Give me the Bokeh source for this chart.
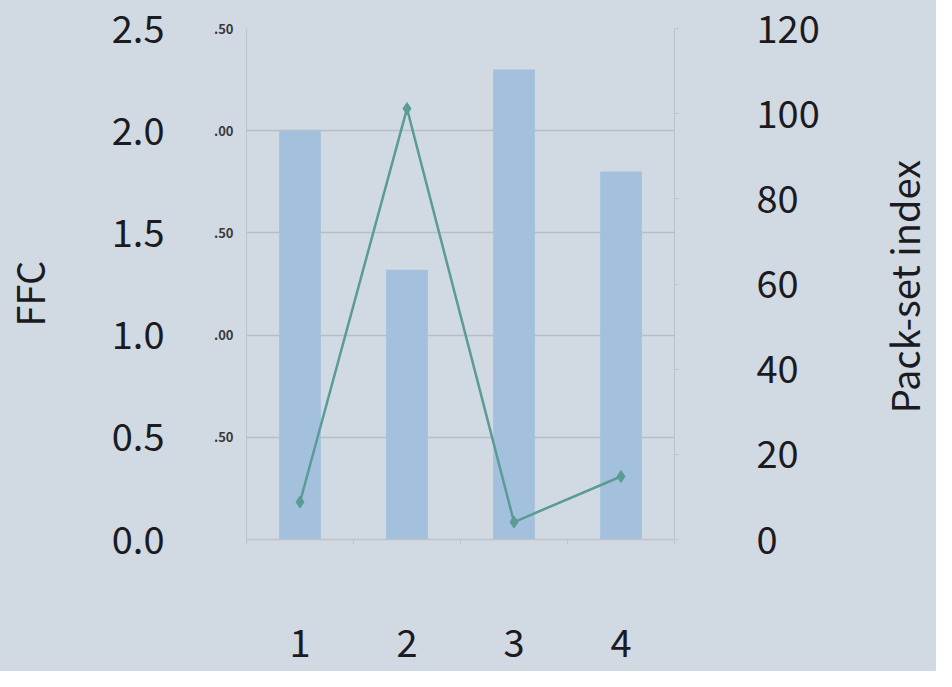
from bokeh.plotting import figure
from bokeh.layouts import row
from bokeh.models import Range1d, LinearAxis, FixedTicker, Label
from bokeh.embed import file_html
from bokeh.resources import INLINE

# Data
groups = [1, 2, 3, 4]
group_labels = ["1", "2", "3", "4"]
ffc = [2.0, 1.32, 2.3, 1.8]
pack_set_index = [8.8, 101.2, 4.1, 14.8]
ffc_ticks = [0.0, 0.5, 1.0, 1.5, 2.0, 2.5]
ffc_tick_labels = ["0.0", "0.5", "1.0", "1.5", "2.0", "2.5"]
inner_tick_labels = ["", ".50", ".00", ".50", ".00", ".50"]
psi_ticks = [0, 20, 40, 60, 80, 100, 120]
left_title = "FFC"
right_title = "Pack-set index"

BG = "#d1d9e3"
BAR = "#a3c1dc"
LINE = "#5b9b96"
GRID = "#b8bec6"
AXIS = "#bcc3cc"
TEXT = "#1b1b1f"
FONT = "Noto Sans CJK JP"
BIG = "38px"
H = 671


def title_strip(text, x, y):
    """Narrow figure that carries a rotated axis title (reads bottom-to-top)."""
    f = figure(width=60, height=H, output_backend="svg", toolbar_location=None,
               x_range=Range1d(0, 1), y_range=Range1d(0, 1),
               x_axis_location=None, y_axis_location=None,
               background_fill_color=None, border_fill_color=BG,
               min_border=0, outline_line_color=None)
    f.grid.visible = False
    f.add_layout(Label(x=x, y=y, text=text, angle=90, angle_units="deg",
                       text_align="center", text_baseline="middle", text_font=FONT,
                       text_font_size=BIG, text_color=TEXT))
    return f


p = figure(width=816, height=H, output_backend="svg", toolbar_location=None,
           x_range=Range1d(0.5, 4.5), y_range=Range1d(0, 2.5),
           background_fill_color=None, border_fill_color=BG,
           min_border_left=186, min_border_right=202, min_border_top=28,
           min_border_bottom=132, outline_line_color=None)

p.extra_y_ranges = {"right": Range1d(0, 120)}

# inner (clipped-looking) left axis
ya = p.yaxis[0]
ya.ticker = FixedTicker(ticks=ffc_ticks, minor_ticks=[])
ya.major_label_overrides = {t: l for t, l in zip(ffc_ticks, inner_tick_labels)}
ya.major_tick_out = 0
ya.major_tick_in = 0
ya.axis_line_color = AXIS
ya.axis_line_width = 1
ya.major_label_standoff = 13
ya.major_label_text_font = FONT
ya.major_label_text_font_size = "13px"
ya.major_label_text_font_style = "bold"
ya.major_label_text_color = "#3a3a3a"

# outer left axis with big labels
yo = LinearAxis(ticker=FixedTicker(ticks=ffc_ticks, minor_ticks=[]),
                major_label_overrides={t: l for t, l in zip(ffc_ticks, ffc_tick_labels)})
yo.axis_line_color = None
yo.major_tick_line_color = None
yo.major_tick_out = 0
yo.major_tick_in = 0
yo.major_label_standoff = 46
yo.major_label_text_font = FONT
yo.major_label_text_font_size = BIG
yo.major_label_text_color = TEXT
p.add_layout(yo, "left")

# right axis
yr = LinearAxis(y_range_name="right", ticker=FixedTicker(ticks=psi_ticks, minor_ticks=[]))
yr.axis_line_color = AXIS
yr.major_tick_line_color = AXIS
yr.major_tick_out = 4
yr.major_tick_in = 0
yr.major_label_standoff = 78
yr.major_label_text_font = FONT
yr.major_label_text_font_size = BIG
yr.major_label_text_color = TEXT
p.add_layout(yr, "right")

# bottom axis
xa = p.xaxis[0]
xa.ticker = FixedTicker(ticks=groups, minor_ticks=[0.5, 1.5, 2.5, 3.5, 4.5])
xa.major_label_overrides = {g: l for g, l in zip(groups, group_labels)}
xa.major_tick_line_color = None
xa.major_tick_out = 0
xa.major_tick_in = 0
xa.minor_tick_line_color = AXIS
xa.minor_tick_out = 5
xa.minor_tick_in = 0
xa.axis_line_color = AXIS
xa.axis_line_width = 1.5
xa.major_label_standoff = 84
xa.major_label_text_font = FONT
xa.major_label_text_font_size = BIG
xa.major_label_text_color = TEXT

p.xgrid.grid_line_color = None
p.ygrid.ticker = FixedTicker(ticks=[0.5, 1.0, 1.5, 2.0, 2.5])
p.ygrid.grid_line_color = GRID
p.ygrid.grid_line_width = 1.5

p.vbar(x=groups, top=ffc, width=0.39, bottom=0, fill_color=BAR, line_color=None)
p.line(x=groups, y=pack_set_index, y_range_name="right", line_color=LINE, line_width=2.5)
p.scatter(x=groups, y=pack_set_index, y_range_name="right", marker="diamond", size=12,
          fill_color=LINE, line_color=LINE)

left_strip = title_strip(left_title, 0.467, 0.481)
right_strip = title_strip(right_title, 0.45, 0.495)

layout = row(left_strip, p, right_strip, spacing=0, styles={"background-color": BG})

open("out.html", "w").write(file_html(layout, INLINE))
